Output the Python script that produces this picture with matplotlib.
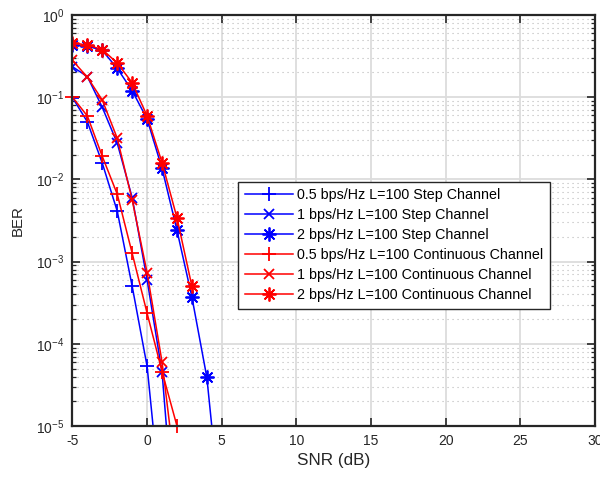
import matplotlib
matplotlib.use("Agg")
import matplotlib.pyplot as plt
from matplotlib.ticker import LogLocator, NullFormatter

plt.rcParams['font.family'] = ['Liberation Sans', 'DejaVu Sans']
plt.rcParams['mathtext.default'] = 'regular'
plt.rcParams['axes.unicode_minus'] = False

# SNR values (dB)
snr_step_05 = [-5, -4, -3, -2, -1, 0, 1]
ber_step_05 = [0.099, 0.050, 0.0157, 0.0041, 5.0e-4, 5.3e-5, 8e-7]

snr_step_1 = [-5, -4, -3, -2, -1, 0, 1, 2]
ber_step_1 = [0.235, 0.178, 0.075, 0.0275, 0.006, 6.0e-4, 4.5e-5, 2.5e-7]

snr_step_2 = [-5, -4, -3, -2, -1, 0, 1, 2, 3, 4, 5]
ber_step_2 = [0.43, 0.42, 0.37, 0.224, 0.12, 0.054, 0.0136, 0.0024, 3.7e-4, 3.9e-5, 6.3e-7]

snr_cont_05 = [-5, -4, -3, -2, -1, 0, 1, 2]
ber_cont_05 = [0.10, 0.059, 0.019, 0.0066, 1.26e-3, 2.35e-4, 4.6e-5, 1.0e-5]

snr_cont_1 = [-5, -4, -3, -2, -1, 0, 1, 2]
ber_cont_1 = [0.28, 0.175, 0.092, 0.0316, 0.0056, 7.3e-4, 6.0e-5, 1.9e-6]

snr_cont_2 = [-5, -4, -3, -2, -1, 0, 1, 2, 3]
ber_cont_2 = [0.46, 0.43, 0.38, 0.26, 0.15, 0.059, 0.016, 0.0034, 5.0e-4]

labels = [
    "0.5 bps/Hz L=100 Step Channel",
    "1 bps/Hz L=100 Step Channel",
    "2 bps/Hz L=100 Step Channel",
    "0.5 bps/Hz L=100 Continuous Channel",
    "1 bps/Hz L=100 Continuous Channel",
    "2 bps/Hz L=100 Continuous Channel",
]
x_ticks = [-5, 0, 5, 10, 15, 20, 25, 30]

fig = plt.figure(figsize=(6.0, 4.79), dpi=100)
ax = fig.add_axes([0.1208, 0.1106, 0.8709, 0.8581])

ASTER = (8, 2, 0)
series = [
    (snr_step_05, ber_step_05, 'blue', '+', True),
    (snr_step_1, ber_step_1, 'blue', 'x', True),
    (snr_step_2, ber_step_2, 'blue', ASTER, True),
    (snr_cont_05, ber_cont_05, 'red', '+', False),
    (snr_cont_1, ber_cont_1, 'red', 'x', True),
    (snr_cont_2, ber_cont_2, 'red', ASTER, True),
]
for (xs, ys, c, m, clip), lab in zip(series, labels):
    ms = {'+': 9.5, 'x': 7}.get(m, 10) if isinstance(m, str) else 10
    ax.semilogy(xs, ys, color=c, marker=m, markersize=ms, markeredgewidth=1.3,
                linewidth=1.1, label=lab, clip_on=clip)

ax.set_xlim(-5, 30)
ax.set_ylim(1e-5, 1)
ax.set_xticks(x_ticks)
ax.yaxis.set_major_locator(LogLocator(base=10, numticks=10))
ax.yaxis.set_minor_locator(LogLocator(base=10, subs=range(2, 10), numticks=20))
ax.yaxis.set_minor_formatter(NullFormatter())

ax.grid(True, which='major', color='#dcdcdc', linewidth=1.3, linestyle='-')
ax.grid(True, which='minor', axis='y', color='#b8b8b8', linewidth=0.8,
        linestyle=(0, (1, 3.5)))
ax.set_axisbelow(True)

ax.tick_params(axis='both', which='major', direction='in', length=6, width=1.2,
               labelsize=10, colors='#262626', top=True, right=True, pad=6)
ax.tick_params(axis='y', which='minor', direction='in', length=3, width=0.9,
               colors='#262626', right=True)
for sp in ax.spines.values():
    sp.set_linewidth(1.6)
    sp.set_color('#262626')

ax.set_xlabel('SNR (dB)', fontsize=12.3, color='#262626', labelpad=3)
ax.set_ylabel('BER', fontsize=10.8, color='#262626', labelpad=8)

leg = ax.legend(loc='upper left', bbox_to_anchor=(0.317, 0.594), fontsize=10.3,
                handlelength=3.4, labelspacing=0.42, borderaxespad=0.0,
                fancybox=False, edgecolor='#262626', framealpha=1.0,
                borderpad=0.45, handletextpad=0.3)
leg.get_frame().set_linewidth(1.0)

fig.savefig('out.png', dpi=100)
